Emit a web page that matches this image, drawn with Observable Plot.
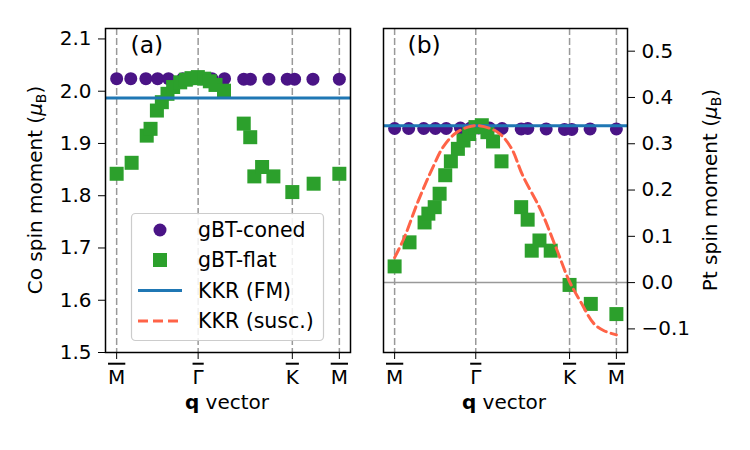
<!DOCTYPE html>
<html><head><meta charset="utf-8">
<script src="https://cdn.jsdelivr.net/npm/d3@7"></script>
<script src="https://cdn.jsdelivr.net/npm/@observablehq/plot@0.6"></script>
<style>
body{margin:0;background:#fff;font-family:"DejaVu Sans",sans-serif;}
#wrap{position:relative;width:750px;height:450px;overflow:hidden;background:#fff;}
#wrap svg{position:absolute;top:0;}
</style></head><body><div id="wrap"></div>
<script>
// high-symmetry points along the q path (M - Gamma - K - M)
const xTicks = [0, 0.577, 1.244, 1.577];
const xTickLabels = ["M", "Γ", "K", "M"];
const yTicksCo = [1.5, 1.6, 1.7, 1.8, 1.9, 2.0, 2.1];
const yTicksPt = [-0.1, 0.0, 0.1, 0.2, 0.3, 0.4, 0.5];

// gBT-coned
const conedQ = [0, 0.10, 0.207, 0.29, 0.367, 0.468, 0.54, 0.598, 0.675, 0.764, 0.90, 0.947, 1.078, 1.208, 1.26, 1.39, 1.577];
const conedCo = [2.024, 2.024, 2.024, 2.024, 2.024, 2.024, 2.024, 2.024, 2.024, 2.024, 2.023, 2.023, 2.023, 2.023, 2.023, 2.023, 2.023];
const conedPt = [0.333, 0.333, 0.333, 0.333, 0.333, 0.334, 0.334, 0.334, 0.334, 0.333, 0.332, 0.333, 0.332, 0.331, 0.331, 0.332, 0.332];

// gBT-flat
const flatQ = [0, 0.106, 0.213, 0.24, 0.285, 0.32, 0.36, 0.40, 0.45, 0.49, 0.53, 0.575, 0.62, 0.66, 0.70, 0.76, 0.90, 0.946, 0.975, 1.03, 1.11, 1.244, 1.395, 1.577];
const flatCo = [1.842, 1.863, 1.915, 1.928, 1.963, 1.979, 1.995, 2.008, 2.017, 2.022, 2.025, 2.027, 2.024, 2.019, 2.012, 2.001, 1.938, 1.912, 1.837, 1.855, 1.837, 1.807, 1.823, 1.842];
const flatPt = [0.035, 0.087, 0.130, 0.149, 0.163, 0.192, 0.232, 0.262, 0.289, 0.307, 0.321, 0.336, 0.340, 0.325, 0.305, 0.262, 0.163, 0.136, 0.069, 0.091, 0.069, -0.005, -0.046, -0.068];

// KKR (FM)
const kkrFMCo = [1.987];
const kkrFMPt = [0.339];

// KKR (susc.)
const suscQ = [0, 0.07, 0.166, 0.272, 0.343, 0.426, 0.52, 0.6, 0.733, 0.827, 0.91, 1.04, 1.147, 1.241, 1.324, 1.418, 1.489, 1.577];
const suscPt = [0.054, 0.098, 0.175, 0.249, 0.292, 0.321, 0.336, 0.339, 0.325, 0.292, 0.232, 0.156, 0.076, 0.004, -0.042, -0.089, -0.104, -0.113];

const purple = "#4a1486", green = "#2ca02c", blue = "#1f77b4", tomato = "#ff6347", gridGray = "#999999";
const zip = (xs, ys) => xs.map((q, i) => ({q, v: ys[i]}));
const xDomain = [-0.079, 1.656];
const fontStyle = {fontFamily: "DejaVu Sans", fontSize: "20px", color: "black", background: "transparent", overflow: "visible"};

function xAxis() {
  return Plot.axisX({ticks: xTicks, tickFormat: d => xTickLabels[xTicks.indexOf(d)], tickSize: 7, tickPadding: 10, label: null, fontSize: 20});
}

const plotA = Plot.plot({
  width: 370, height: 450, marginLeft: 105, marginRight: 20, marginTop: 28, marginBottom: 98,
  x: {domain: xDomain}, y: {domain: [1.5, 2.12]},
  style: fontStyle,
  marks: [
    Plot.ruleX(xTicks, {stroke: gridGray, strokeWidth: 1.5, strokeDasharray: "7,3"}),
    Plot.dot(zip(conedQ, conedCo), {x: "q", y: "v", r: 6.5, fill: purple}),
    Plot.dot(zip(flatQ, flatCo), {x: "q", y: "v", r: 7.9, symbol: "square", fill: green}),
    Plot.ruleY(kkrFMCo, {stroke: blue, strokeWidth: 3}),
    Plot.frame({stroke: "black", strokeWidth: 1.5}),
    Plot.axisY({ticks: yTicksCo, tickFormat: ".1f", tickSize: 7, tickPadding: 7, label: null, fontSize: 20}),
    xAxis(),
    Plot.text(["(a)"], {text: d => d, frameAnchor: "top-left", dx: 25, dy: 8, fontSize: 23.5, textAnchor: "start", lineAnchor: "top"})
  ]
});

const plotB = Plot.plot({
  width: 380, height: 450, marginLeft: 13, marginRight: 123, marginTop: 28, marginBottom: 98,
  x: {domain: xDomain}, y: {domain: [-0.151, 0.549]},
  style: fontStyle,
  marks: [
    Plot.ruleX(xTicks, {stroke: gridGray, strokeWidth: 1.5, strokeDasharray: "7,3"}),
    Plot.ruleY([0], {stroke: gridGray, strokeWidth: 1.5}),
    Plot.dot(zip(conedQ, conedPt), {x: "q", y: "v", r: 6.5, fill: purple}),
    Plot.dot(zip(flatQ, flatPt), {x: "q", y: "v", r: 7.9, symbol: "square", fill: green}),
    Plot.ruleY(kkrFMPt, {stroke: blue, strokeWidth: 3}),
    Plot.line(zip(suscQ, suscPt), {x: "q", y: "v", stroke: tomato, strokeWidth: 3, strokeDasharray: "10,5", curve: "catmull-rom"}),
    Plot.frame({stroke: "black", strokeWidth: 1.5}),
    Plot.axisY({anchor: "right", ticks: yTicksPt, tickFormat: ".1f", tickSize: 7, tickPadding: 7, label: null, fontSize: 20}),
    xAxis(),
    Plot.text(["(b)"], {text: d => d, frameAnchor: "top-left", dx: 24, dy: 8, fontSize: 23.5, textAnchor: "start", lineAnchor: "top"})
  ]
});

const wrap = document.getElementById("wrap");
plotA.style.left = "0px";
plotB.style.left = "370px";
wrap.appendChild(plotA);
wrap.appendChild(plotB);
for (const p of [plotA, plotB]) {
  d3.select(p).selectAll('g[aria-label="x-axis tick label"] text').style("text-decoration", "overline");
}

// overlay: legend and axis titles
const ov = d3.select(wrap).append("svg").attr("width", 750).attr("height", 450)
  .style("left", "0px").style("font-family", "DejaVu Sans").style("font-size", "20px");

function yLabel(x, y, name) {
  const t = ov.append("text").attr("transform", `translate(${x},${y}) rotate(-90)`).attr("text-anchor", "middle");
  t.append("tspan").text(name + " spin moment (");
  t.append("tspan").attr("font-style", "italic").text("μ");
  t.append("tspan").attr("font-size", 14).attr("dy", 4).text("B");
  t.append("tspan").attr("dy", -4).text(")");
}
yLabel(42, 190, "Co");
yLabel(717, 190, "Pt");

function xLabel(x) {
  const t = ov.append("text").attr("x", x).attr("y", 409).attr("text-anchor", "middle");
  t.append("tspan").attr("font-weight", "bold").text("q");
  t.append("tspan").text(" vector");
}
xLabel(227);
xLabel(504);

const lg = ov.append("g");
lg.append("rect").attr("x", 131.5).attr("y", 213.5).attr("width", 192).attr("height", 127).attr("rx", 4)
  .attr("fill", "white").attr("fill-opacity", 0.85).attr("stroke", "#cccccc").attr("stroke-width", 1.2);
const legendNames = ["gBT-coned", "gBT-flat", "KKR (FM)", "KKR (susc.)"];
const rowY = [230, 260, 290.5, 321];
lg.append("circle").attr("cx", 160).attr("cy", rowY[0]).attr("r", 6.5).attr("fill", purple);
lg.append("rect").attr("x", 153).attr("y", rowY[1] - 7).attr("width", 14).attr("height", 14).attr("fill", green);
lg.append("line").attr("x1", 138).attr("x2", 182).attr("y1", rowY[2]).attr("y2", rowY[2]).attr("stroke", blue).attr("stroke-width", 3);
lg.append("line").attr("x1", 138).attr("x2", 182).attr("y1", rowY[3]).attr("y2", rowY[3]).attr("stroke", tomato).attr("stroke-width", 3).attr("stroke-dasharray", "10,5");
legendNames.forEach((n, i) => {
  lg.append("text").attr("x", 198).attr("y", rowY[i] + 7).attr("font-size", 20.5).text(n);
});
</script></body></html>
